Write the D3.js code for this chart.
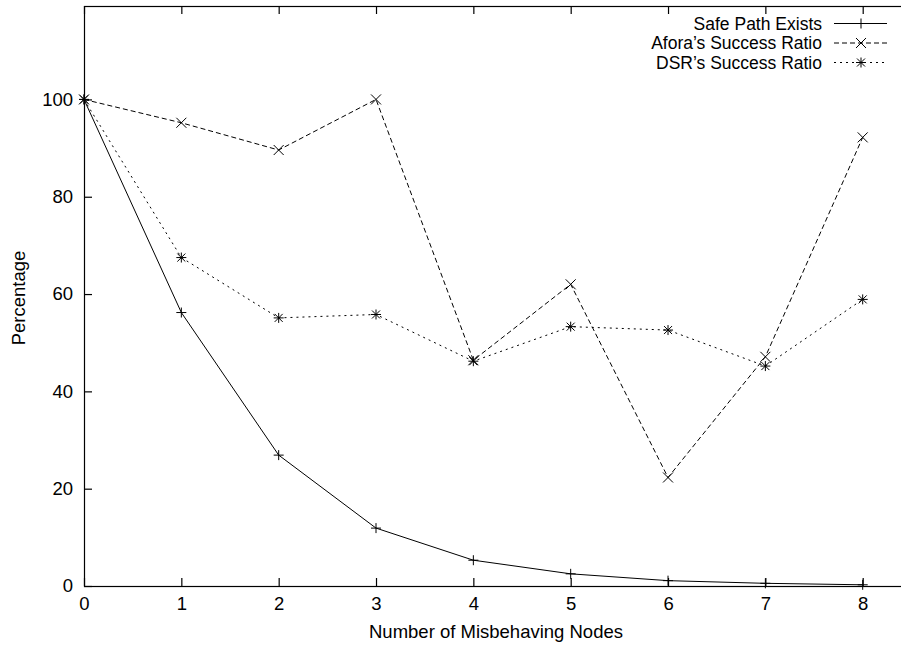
<!DOCTYPE html>
<html>
<head>
<meta charset="utf-8">
<script src="https://cdn.jsdelivr.net/npm/d3@7"></script>
<style>
  body { margin: 0; background: #fff; }
  svg { display: block; }
  text { font-family: "Liberation Sans", Arial, Helvetica, sans-serif; font-size: 18.5px; fill: #000; }
  text.legend { font-size: 17.5px; }
</style>
</head>
<body>
<div id="chart"></div>
<script>
// Data
var nodes = [0, 1, 2, 3, 4, 5, 6, 7, 8];
var safePath = [100, 56.2, 26.9, 11.9, 5.3, 2.5, 1.1, 0.55, 0.25];
var aforaRatio = [100, 95.2, 89.6, 100, 46.4, 62.0, 22.3, 47.1, 92.2];
var dsrRatio = [100, 67.5, 55.1, 55.8, 46.2, 53.3, 52.6, 45.2, 58.9];
var xTicks = [0, 1, 2, 3, 4, 5, 6, 7, 8];
var yTicks = [0, 20, 40, 60, 80, 100];
var seriesNames = ["Safe Path Exists", "Afora\u2019s Success Ratio", "DSR\u2019s Success Ratio"];

var W = 901, H = 645;
var margin = {top: 6, left: 84, bottom: 59};
var plotRight = 906.5; // frame runs just past the window edge

var svg = d3.select("#chart").append("svg")
    .attr("width", W).attr("height", H);

var x = d3.scaleLinear().domain([0, 8.45]).range([margin.left, plotRight]);
var y = d3.scaleLinear().domain([0, 119.2]).range([H - margin.bottom, margin.top]);

// frame
svg.append("rect")
    .attr("x", x(0) + 0.5).attr("y", y(119.2) + 0.5)
    .attr("width", x(8.45) - x(0)).attr("height", y(0) - y(119.2))
    .attr("fill", "none").attr("stroke", "#000").attr("stroke-width", 1.2);

// axes (gnuplot style: inward ticks, mirrored)
svg.append("g").attr("transform", "translate(0," + y(0) + ")")
    .call(d3.axisBottom(x).tickValues(xTicks).tickFormat(d3.format("d"))
        .tickSizeInner(-8).tickSizeOuter(0).tickPadding(11));
svg.append("g").attr("transform", "translate(0," + y(119.2) + ")")
    .call(d3.axisTop(x).tickValues(xTicks).tickFormat("")
        .tickSizeInner(-8).tickSizeOuter(0));
svg.append("g").attr("transform", "translate(" + x(0) + ",0)")
    .call(d3.axisLeft(y).tickValues(yTicks).tickFormat(d3.format("d"))
        .tickSizeInner(-8).tickSizeOuter(0).tickPadding(11));
svg.selectAll(".domain").remove();
svg.selectAll(".tick line").attr("stroke", "#000").attr("stroke-width", 1.2);
svg.selectAll(".tick text").attr("font-size", null).attr("font-family", null).style("fill", "#000");

// axis titles
svg.append("text").attr("x", 496).attr("y", 638).attr("text-anchor", "middle")
    .text("Number of Misbehaving Nodes");
svg.append("text").attr("transform", "translate(25,298) rotate(-90)")
    .attr("text-anchor", "middle").text("Percentage");

// markers
function plusPath(s) { return "M" + (-s) + ",0H" + s + "M0," + (-s) + "V" + s; }
function crossPath(s) { return "M" + (-s) + "," + (-s) + "L" + s + "," + s + "M" + (-s) + "," + s + "L" + s + "," + (-s); }
function starPath(s) { return plusPath(s) + crossPath(s * 0.8); }

var series = [
  {name: seriesNames[0], values: safePath, dash: null, marker: plusPath(5)},
  {name: seriesNames[1], values: aforaRatio, dash: "5,3", marker: crossPath(5)},
  {name: seriesNames[2], values: dsrRatio, dash: "2,4", marker: starPath(5)}
];

var line = d3.line()
    .x(function(d, i) { return x(nodes[i]); })
    .y(function(d) { return y(d); });

series.forEach(function(s, k) {
  svg.append("path")
      .attr("d", line(s.values))
      .attr("fill", "none").attr("stroke", "#000").attr("stroke-width", 1)
      .attr("stroke-dasharray", s.dash);
  svg.selectAll(null).data(s.values).enter().append("path")
      .attr("transform", function(d, i) { return "translate(" + x(nodes[i]) + "," + y(d) + ")"; })
      .attr("d", s.marker)
      .attr("fill", "none").attr("stroke", "#000").attr("stroke-width", 1);

  // legend row
  var ly = 23.5 + k * 19.5;
  svg.append("text").attr("class", "legend").attr("x", 822).attr("y", ly).attr("dy", "0.36em")
      .attr("text-anchor", "end").text(s.name);
  svg.append("line").attr("x1", 834).attr("x2", 887).attr("y1", ly).attr("y2", ly)
      .attr("stroke", "#000").attr("stroke-width", 1).attr("stroke-dasharray", s.dash);
  svg.append("path").attr("transform", "translate(861," + ly + ")")
      .attr("d", s.marker).attr("fill", "none").attr("stroke", "#000").attr("stroke-width", 1);
});
</script>
</body>
</html>
